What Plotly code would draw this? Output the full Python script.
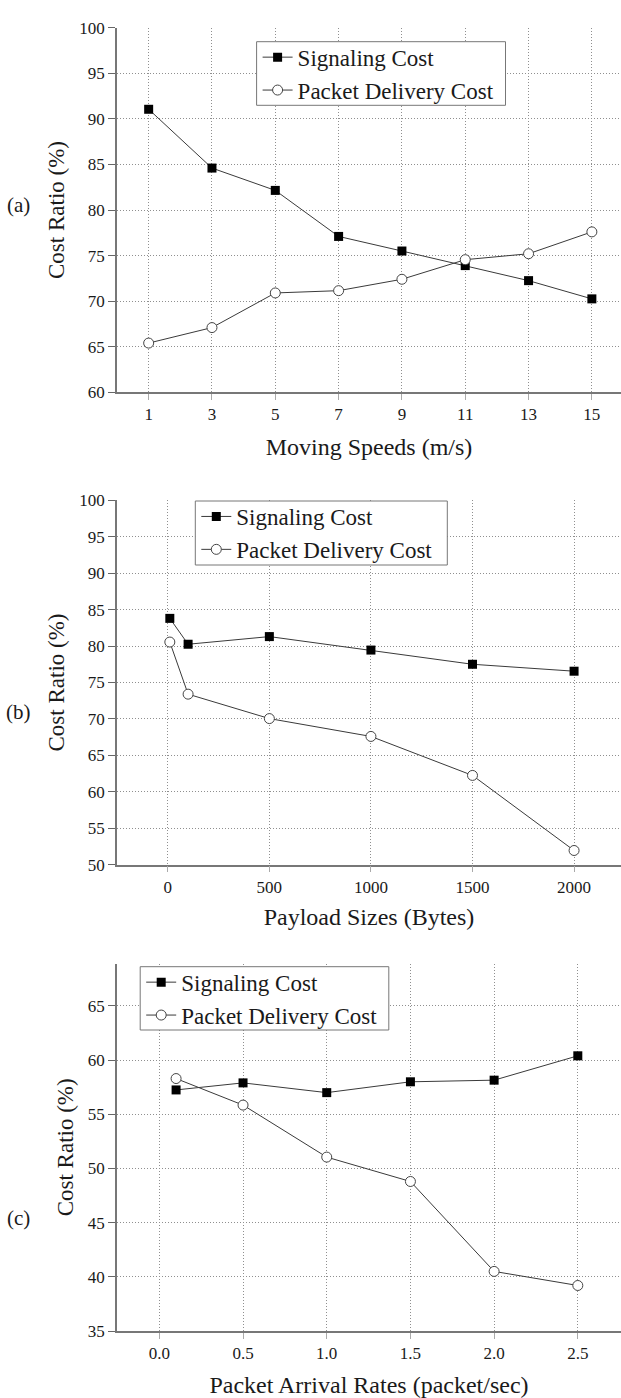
import plotly.graph_objects as go

# ---------------- data ----------------
speeds = [1, 3, 5, 7, 9, 11, 13, 15]
sig_a = [91.05, 84.6, 82.15, 77.1, 75.5, 73.9, 72.25, 70.25]
pkt_a = [65.4, 67.1, 70.9, 71.15, 72.4, 74.55, 75.2, 77.6]

payloads = [10, 100, 500, 1000, 1500, 2000]
sig_b = [83.8, 80.25, 81.3, 79.45, 77.5, 76.55]
pkt_b = [80.55, 73.4, 70.05, 67.6, 62.25, 51.95]

rates = [0.1, 0.5, 1.0, 1.5, 2.0, 2.5]
sig_c = [57.25, 57.9, 57.0, 58.0, 58.15, 60.4]
pkt_c = [58.3, 55.85, 51.05, 48.8, 40.5, 39.2]

ticks_a_x = [1, 3, 5, 7, 9, 11, 13, 15]
ticks_a_y = [60, 65, 70, 75, 80, 85, 90, 95, 100]
ticks_b_x = [0, 500, 1000, 1500, 2000]
ticks_b_y = [50, 55, 60, 65, 70, 75, 80, 85, 90, 95, 100]
ticks_c_x = [0.0, 0.5, 1.0, 1.5, 2.0, 2.5]
ticks_c_y = [35, 40, 45, 50, 55, 60, 65]

series_names = ["Signaling Cost", "Packet Delivery Cost"]
x_titles = ["Moving Speeds (m/s)", "Payload Sizes (Bytes)", "Packet Arrival Rates (packet/sec)"]
y_title = "Cost Ratio (%)"
panel_labels = ["(a)", "(b)", "(c)"]

# ---------------- layout geometry ----------------
W, H = 621, 1398
FONT = "Liberation Serif, Times New Roman, serif"
TXT = "#1a1a1a"
LINE_COL = "#3a3a3a"
GRID = dict(showgrid=True, gridcolor="#8f8f8f", griddash="1px,2px", gridwidth=1)

def ydom(top_px, bot_px):
    return [1 - bot_px / H, 1 - top_px / H]

xdom = [117 / W, 1.0]
panels = [
    dict(x=speeds, s=sig_a, p=pkt_a, xr=[0, 15.92], yr=[60, 100], yd=ydom(27.7, 392.3),
         tx=ticks_a_x, ty=ticks_a_y, fmt=None, box=(256.6, 41.7, 505.5, 105.3), xst=15),
    dict(x=payloads, s=sig_b, p=pkt_b, xr=[-250, 2231], yr=[50, 100], yd=ydom(500.3, 864.7),
         tx=ticks_b_x, ty=ticks_b_y, fmt=None, box=(195.3, 501.0, 447.3, 565.0), xst=12),
    dict(x=rates, s=sig_c, p=pkt_c, xr=[-0.253, 2.758], yr=[35, 68.9], yd=ydom(963.7, 1331.0),
         tx=ticks_c_x, ty=ticks_c_y, fmt=".1f", box=(140.2, 966.7, 388.8, 1030.0), xst=16),
]

fig = go.Figure()
layout = dict(
    width=W, height=H, margin=dict(l=0, r=0, t=0, b=0, autoexpand=False),
    paper_bgcolor="white", plot_bgcolor="white",
    font=dict(family=FONT, color=TXT),
    showlegend=True,
)
shapes = []

for i, pn in enumerate(panels):
    k = "" if i == 0 else str(i + 1)
    kg = str(i + 4)  # overlay axis carrying horizontal grid lines
    legname = "legend" + k
    fig.add_trace(go.Scatter(
        x=pn["x"], y=pn["s"], name=series_names[0], mode="lines+markers",
        line=dict(color=LINE_COL, width=1),
        marker=dict(symbol="square", size=9, color="black"),
        xaxis="x" + k, yaxis="y" + k, legend=legname, cliponaxis=False,
    ))
    fig.add_trace(go.Scatter(
        x=pn["x"], y=pn["p"], name=series_names[1], mode="lines+markers",
        line=dict(color=LINE_COL, width=1),
        marker=dict(symbol="circle", size=10, color="white", line=dict(color="#444", width=1)),
        xaxis="x" + k, yaxis="y" + k, legend=legname, cliponaxis=False,
    ))
    # empty trace so the grid-only overlay axis gets a subplot
    fig.add_trace(go.Scatter(x=[None], y=[None], xaxis="x" + k, yaxis="y" + kg,
                             showlegend=False, hoverinfo="skip", mode="lines"))
    layout["xaxis" + k] = dict(
        domain=xdom, anchor="y" + k, range=pn["xr"], tickvals=pn["tx"],
        tickformat=pn["fmt"], showline=True, linecolor="#777", linewidth=1.5,
        ticks="outside", ticklen=6, tickcolor="#aaa", zeroline=False,
        tickfont=dict(family=FONT, size=17, color=TXT),
        title=dict(text=x_titles[i], font=dict(family=FONT, size=24, color=TXT),
                   standoff=pn["xst"]),
        **GRID,
    )
    layout["yaxis" + k] = dict(
        domain=pn["yd"], anchor="x" + k, range=pn["yr"], tickvals=pn["ty"],
        showline=True, linecolor="#777", linewidth=1.5,
        ticks="outside", ticklen=7, tickcolor="#666", showgrid=False, zeroline=False,
        tickfont=dict(family=FONT, size=17, color=TXT),
        title=dict(text=y_title, font=dict(family=FONT, size=23, color=TXT),
                   standoff=8),
    )
    inner = [v for v in pn["ty"] if pn["yr"][0] < v < pn["yr"][1]]
    layout["yaxis" + kg] = dict(
        domain=pn["yd"], anchor="x" + k, overlaying="y" + k, range=pn["yr"],
        tickvals=inner, showticklabels=False, ticks="", showline=False,
        zeroline=False, **GRID,
    )
    bx0, by0, bx1, by1 = pn["box"]
    shapes.append(dict(type="rect", xref="paper", yref="paper", layer="above",
                       x0=bx0 / W, x1=bx1 / W, y0=1 - by1 / H, y1=1 - by0 / H,
                       fillcolor="white", line=dict(color="#777", width=1)))
    layout[legname] = dict(
        x=(bx0 + 1) / W, y=1 - (by0 - 6) / H, xanchor="left", yanchor="top",
        bgcolor="rgba(0,0,0,0)", borderwidth=0,
        font=dict(family=FONT, size=23, color=TXT),
        itemwidth=30, tracegroupgap=0,
    )

annotations = []
label_y = [205, 712, 1218]
for lab, yy in zip(panel_labels, label_y):
    annotations.append(dict(text=lab, x=18 / W, y=1 - yy / H, xref="paper", yref="paper",
                            xanchor="center", yanchor="middle", showarrow=False,
                            font=dict(family=FONT, size=21, color=TXT)))
layout["annotations"] = annotations
layout["shapes"] = shapes

fig.update_layout(**layout)
fig.write_html("out.html", config={"displayModeBar": False},
               post_script="document.body.style.margin='0';")
